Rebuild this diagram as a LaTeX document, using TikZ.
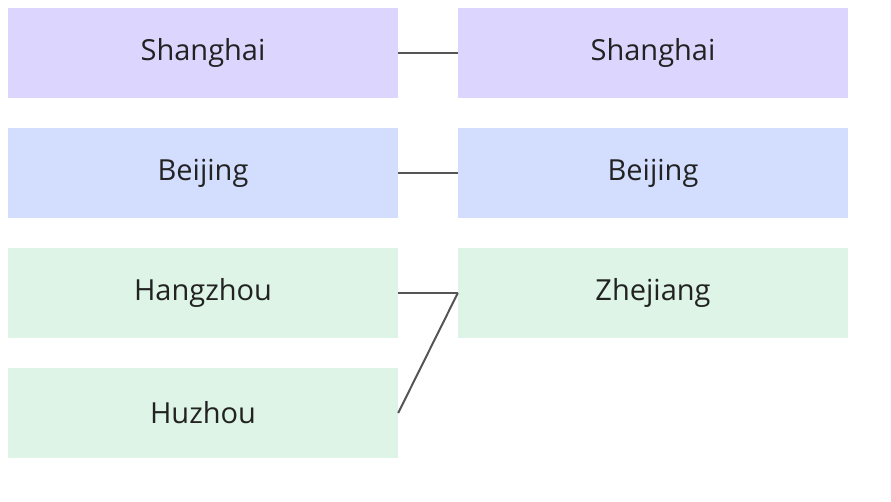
\documentclass[tikz,border=0pt]{standalone}
\usepackage{fontspec}
\setmainfont{Open Sans}
\definecolor{cpur}{HTML}{DCD6FE}
\definecolor{cblu}{HTML}{D3DDFE}
\definecolor{cgrn}{HTML}{DEF4E6}
\definecolor{ctxt}{HTML}{222222}
\definecolor{cline}{HTML}{555555}
\begin{document}
\begin{tikzpicture}[x=1pt,y=1pt,
  box/.style={minimum width=390pt,minimum height=90pt,inner sep=0pt,text=ctxt,font=\fontsize{29}{34}\selectfont},
  conn/.style={draw=cline,line width=2pt}]
\useasboundingbox (0,0) rectangle (891,-501);
\node[box,fill=cpur] (ls) at (203,-53) {Shanghai};
\node[box,fill=cblu] (lb) at (203,-173) {Beijing};
\node[box,fill=cgrn] (lh) at (203,-293) {Hangzhou};
\node[box,fill=cgrn] (lz) at (203,-413) {Huzhou};
\node[box,fill=cpur] (rs) at (653,-53) {Shanghai};
\node[box,fill=cblu] (rb) at (653,-173) {Beijing};
\node[box,fill=cgrn] (rz) at (653,-293) {Zhejiang};
\draw[conn] (ls.east) -- (rs.west);
\draw[conn] (lb.east) -- (rb.west);
\draw[conn] (lh.east) -- (rz.west);
\draw[conn] (lz.east) -- (rz.west);
\end{tikzpicture}
\end{document}
